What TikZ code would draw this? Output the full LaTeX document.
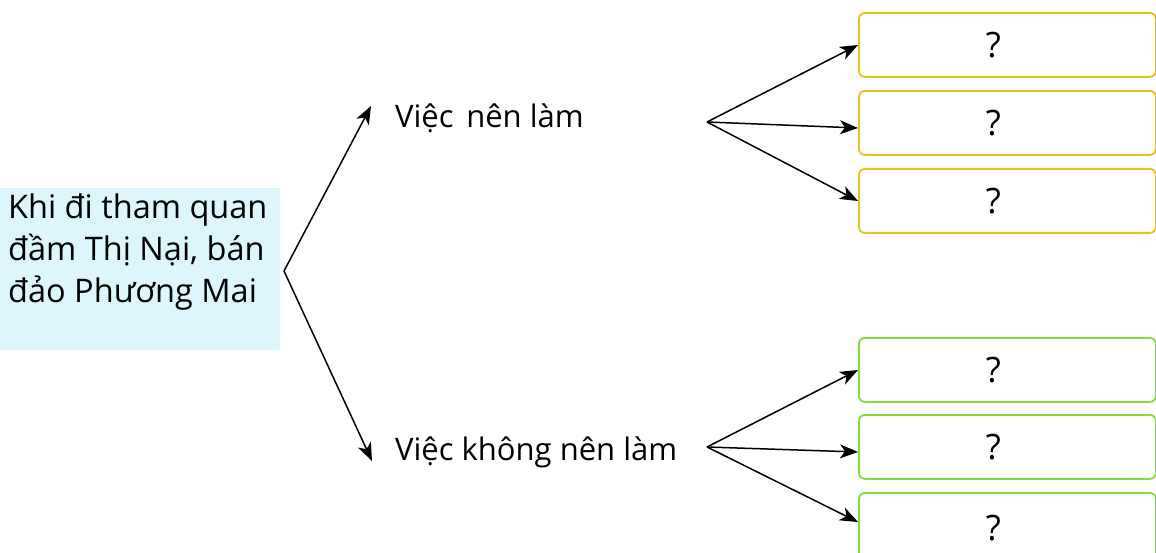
\documentclass[tikz,border=0pt]{standalone}
\usepackage{fontspec}
\setmainfont{Open Sans}
\usetikzlibrary{arrows.meta}
\definecolor{srcfill}{HTML}{DDF6FB}
\definecolor{gold}{HTML}{EDBE1E}
\definecolor{leaf}{HTML}{86DC3C}
\tikzset{
  srctxt/.style={font=\fontsize{32.5}{42}\selectfont, inner sep=0pt},
  txt/.style={font=\fontsize{31}{42}\selectfont, inner sep=0pt},
  ansbox/.style={draw=#1, line width=1.8pt, rounded corners=6pt, minimum width=297pt, minimum height=64pt, inner sep=0pt, anchor=north west, font=\fontsize{35}{38}\selectfont},
  arr/.style={line width=1.5pt, -{Stealth[length=18pt,width=14pt,inset=5pt]}},
}
\newcommand{\qm}{\mbox{?\hspace{28pt}}}
\begin{document}
\begin{tikzpicture}[x=1pt,y=-1pt]
\useasboundingbox (0,0) rectangle (1156,553);
% source box
\node (src) [fill=srcfill, minimum width=280pt, minimum height=162pt, inner sep=0pt, anchor=north west] at (0,188) {};
\node (l1) [srctxt, anchor=base west] at (8,219) {Khi đi tham quan};
\node (l2) [srctxt, anchor=base west] at (8,261) {đầm Thị Nại, bán};
\node (l3) [srctxt, anchor=base west] at (8,302) {đảo Phương Mai};
\coordinate (v0) at (284,271);
% branch labels
\node (nen) [txt, anchor=base west] at (395,128) {Việc\hspace{0.15em} nên làm};
\node (khong) [txt, anchor=base west] at (395,460) {Việc không nên làm};
\coordinate (t1) at (371,106);
\coordinate (t2) at (372,461);
\draw[arr] (v0) -- (t1);
\draw[arr] (v0) -- (t2);
% top answer boxes
\node (a1) [ansbox=gold] at (858,12) {\qm};
\node (a2) [ansbox=gold] at (858,90) {\qm};
\node (a3) [ansbox=gold] at (858,168) {\qm};
\coordinate (v1) at (707,122);
\draw[arr] (v1) -- (a1.west |- 0,45);
\draw[arr] (v1) -- (a2.west |- 0,128);
\draw[arr] (v1) -- (a3.west |- 0,201);
% bottom answer boxes
\node (b1) [ansbox=leaf] at (858,337) {\qm};
\node (b2) [ansbox=leaf] at (858,414) {\qm};
\node (b3) [ansbox=leaf, minimum height=70pt] at (858,492) {\raisebox{-3pt}{\qm}};
\coordinate (v2) at (707,447);
\draw[arr] (v2) -- (b1.west |- 0,370);
\draw[arr] (v2) -- (b2.west |- 0,452);
\draw[arr] (v2) -- (b3.west |- 0,522);
\end{tikzpicture}
\end{document}
